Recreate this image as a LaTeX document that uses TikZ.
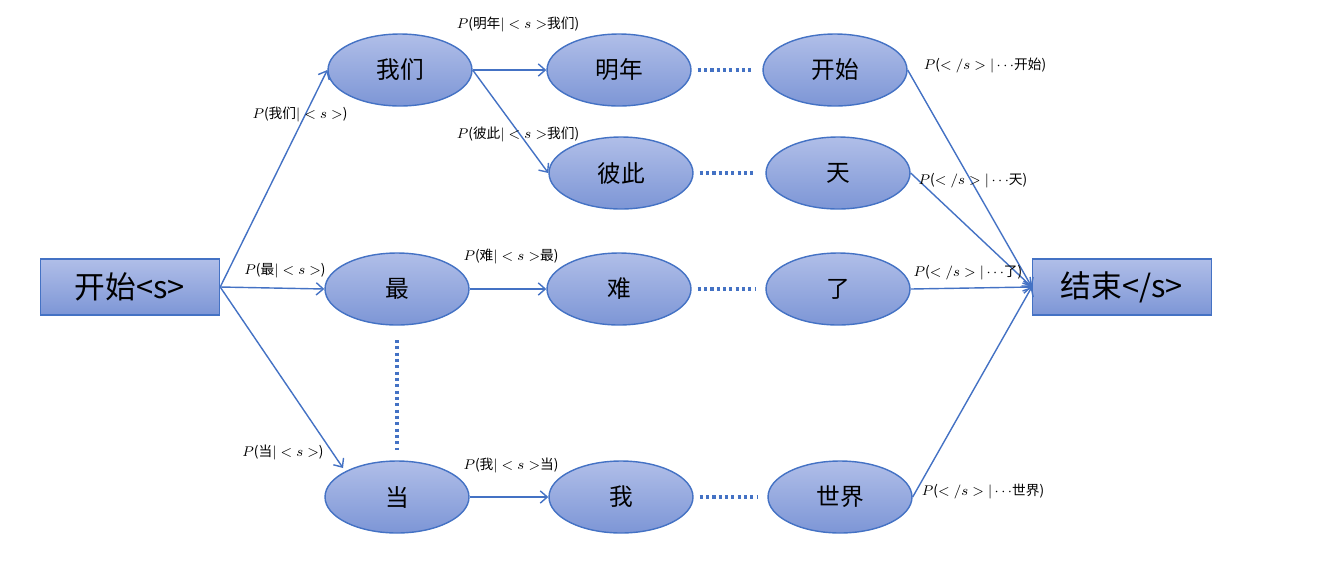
\documentclass[tikz,border=0pt]{standalone}
\usepackage{fontspec}
\newfontfamily\cjk{Noto Sans CJK SC}
\usetikzlibrary{arrows.meta}
\definecolor{bord}{HTML}{4472C4}
\definecolor{topc}{HTML}{B0BEE8}
\definecolor{botc}{HTML}{7D96D6}
\tikzset{
 px/.style={x=0.02cm,y=-0.02cm},
 ell/.style={ellipse,draw=bord,thick,top color=topc,bottom color=botc,minimum width=2.88cm,minimum height=1.44cm,font=\cjk\fontsize{13.5}{15}\selectfont,inner sep=0pt},
 box/.style={rectangle,draw=bord,thick,top color=topc,bottom color=botc,minimum width=3.58cm,minimum height=1.12cm,font=\cjk\fontsize{17.5}{19}\selectfont},
 arr/.style={draw=bord,line width=0.8pt,-{Straight Barb[length=4pt,width=7pt]}},
 dots/.style={draw=bord,line width=1.8pt,dash pattern=on 1.8pt off 1.8pt},
 lab/.style={font=\cjk\fontsize{7.8}{9}\selectfont,inner sep=0pt}
}
\usetikzlibrary{shapes.geometric}
\begin{document}
\begin{tikzpicture}[px]
\useasboundingbox (0,0) rectangle (1342,562);
\node[box] (s) at (130,287) {开始<s>};
\node[box] (e) at (1122,287) {结束</s>};
\node[ell] (wm) at (400,70) {我们};
\node[ell] (mn) at (619,70) {明年};
\node[ell] (ks) at (835,70) {开始};
\node[ell] (bc) at (621,173) {彼此};
\node[ell] (t) at (838,173) {天};
\node[ell] (z) at (397,289) {最};
\node[ell] (n) at (619,289) {难};
\node[ell] (l) at (838,289) {了};
\node[ell] (d) at (397,497) {当};
\node[ell] (w) at (621,497) {我};
\node[ell] (sj) at (840,497) {世界};
\draw[arr] (s.east) -- (wm.west|-0,70) ;
\draw[arr] (s.east) -- (z.west);
\draw[arr] (s.east) -- (343,468);
\draw[arr] (wm.east) -- (mn.west);
\draw[arr] (wm.east) -- (bc.west);
\draw[arr] (z.east) -- (n.west);
\draw[arr] (d.east) -- (w.west);
\draw[arr] (ks.east) -- (e.west);
\draw[arr] (t.east) -- (e.west);
\draw[arr] (l.east) -- (e.west);
\draw[arr] (sj.east) -- (e.west);
\draw[dots] (mn.east) ++(6,0) -- ([xshift=-6]ks.west);
\draw[dots] (bc.east) ++(6,0) -- ([xshift=-6]t.west);
\draw[dots] (n.east) ++(6,0) -- ([xshift=-6]l.west);
\draw[dots] (w.east) ++(6,0) -- ([xshift=-6]sj.west);
\draw[dots] (397,340) -- (397,450);
\node[lab] at (300,115) {$P$(我们$|<s>$)};
\node[lab] at (285,271) {$P$(最$|<s>$)};
\node[lab] at (283,452) {$P$(当$|<s>$)};
\node[lab] at (518,24) {$P$(明年$|<s>$我们)};
\node[lab] at (518,134) {$P$(彼此$|<s>$我们)};
\node[lab] at (511,257) {$P$(难$|<s>$最)};
\node[lab] at (511,465) {$P$(我$|<s>$当)};
\node[lab] at (985,65) {$P$($</s>|\cdots$开始)};
\node[lab] at (973,181) {$P$($</s>|\cdots$天)};
\node[lab] at (968,273) {$P$($</s>|\cdots$了)};
\node[lab] at (983,492) {$P$($</s>|\cdots$世界)};
\end{tikzpicture}
\end{document}
